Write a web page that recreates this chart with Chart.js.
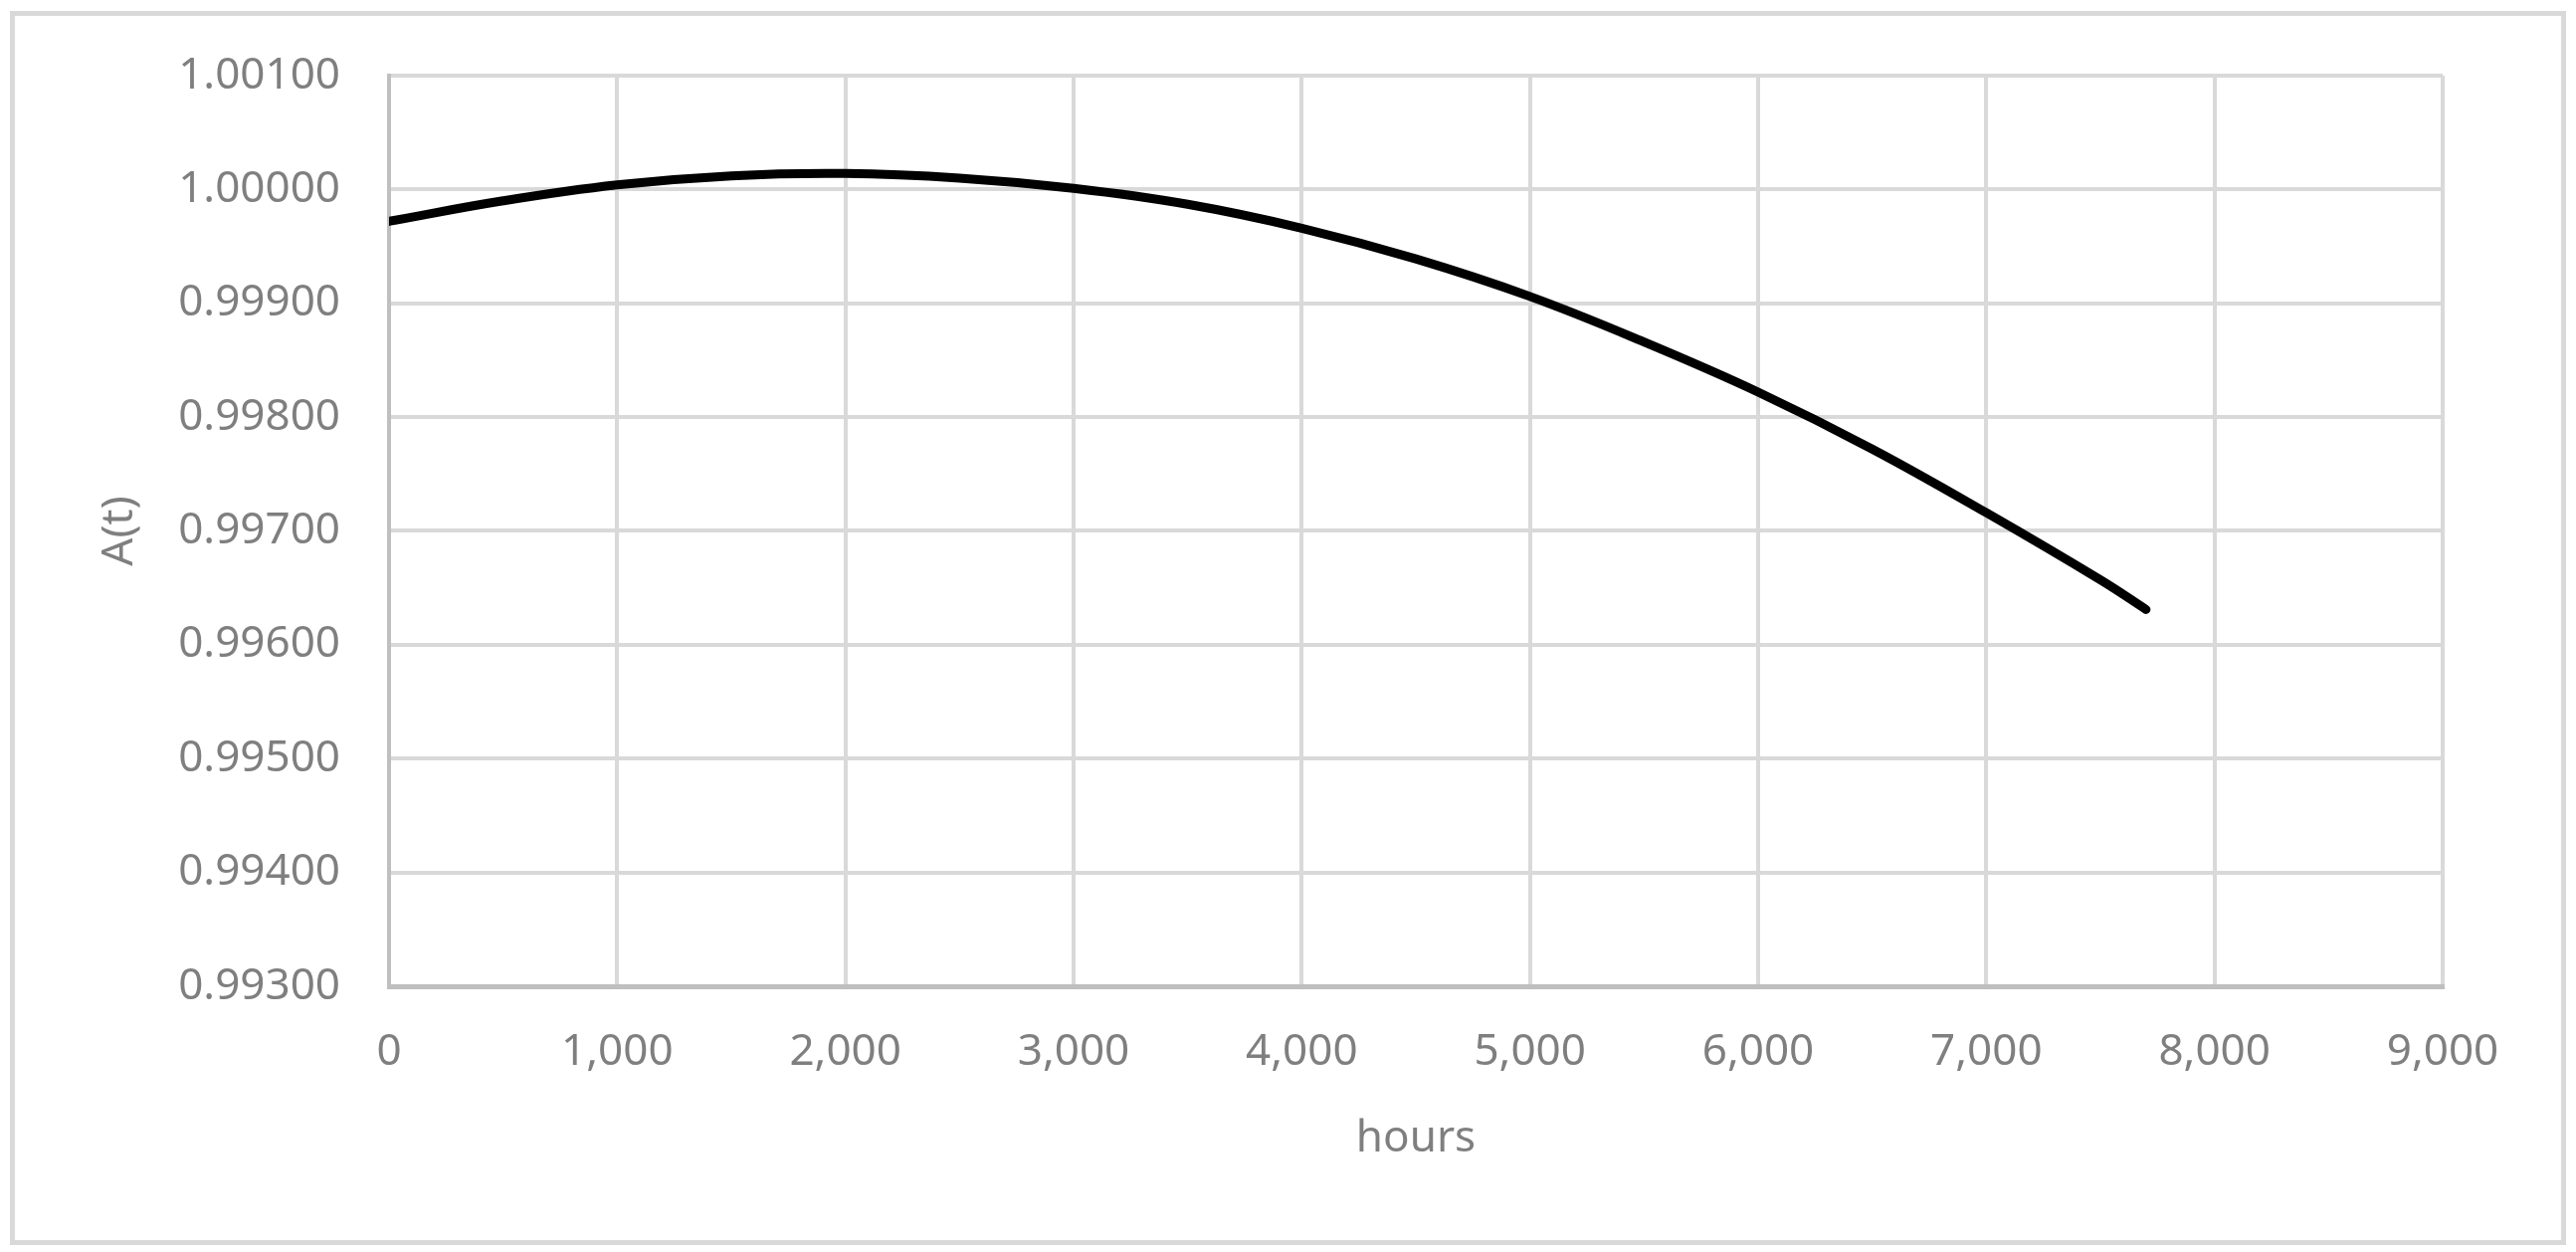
<!DOCTYPE html>
<html>
<head>
<meta charset="utf-8">
<script src="https://cdn.jsdelivr.net/npm/chart.js@4"></script>
<style>
  html, body { margin: 0; padding: 0; background: #fff; }
  #marco {
    position: absolute; left: 10px; top: 11px;
    width: 2559px; height: 1230px;
    border: 5px solid #d9d9d9;
  }
  #lienzo { position: absolute; left: 0; top: 0; width: 2589px; height: 1258px; }
</style>
</head>
<body>
<div id="marco"></div>
<div id="lienzo"><canvas id="grafico" width="2589" height="1258"></canvas></div>
<script>
// valores
const horas = [0, 500, 1000, 1500, 2000, 2500, 3000, 3500, 4000, 4500, 5000, 5500, 6000, 6500, 7000, 7500, 7700];
const disponibilidad = [0.99972, 0.99990, 1.00004, 1.00012, 1.00014, 1.00010, 1.00001, 0.99987, 0.99966, 0.99939,
                        0.99906, 0.99866, 0.99822, 0.99772, 0.99716, 0.99657, 0.99631];
const ticksX = [0, 1000, 2000, 3000, 4000, 5000, 6000, 7000, 8000, 9000];
const ticksY = [0.993, 0.994, 0.995, 0.996, 0.997, 0.998, 0.999, 1.000, 1.001];

const gris = '#7f7f7f';
const fuente = { family: 'Noto Sans', size: 44 };

new Chart(document.getElementById('grafico'), {
    type: 'line',
    data: {
        datasets: [{
            data: horas.map((h, i) => ({ x: h, y: disponibilidad[i] })),
            borderColor: '#000',
            borderWidth: 9,
            borderCapStyle: 'round',
            borderJoinStyle: 'round',
            pointRadius: 0,
            tension: 0.4,
            fill: false
        }]
    },
    options: {
        responsive: false,
        animation: false,
        devicePixelRatio: 1,
        layout: { padding: { left: 0, top: 76, right: 134, bottom: 0 } },
        plugins: { legend: { display: false }, tooltip: { enabled: false } },
        scales: {
            x: {
                type: 'linear',
                min: ticksX[0], max: ticksX[ticksX.length - 1],
                afterBuildTicks: s => { s.ticks = ticksX.map(v => ({ value: v })); },
                afterFit: s => { s.height = 267; },
                grid: { color: '#d9d9d9', lineWidth: 4, drawTicks: false },
                border: { color: '#bfbfbf', width: 5 },
                ticks: { color: gris, font: fuente, padding: 40, maxRotation: 0,
                         callback: v => v.toLocaleString('en-US') },
                title: { display: true, text: 'hours', color: gris, font: fuente,
                         padding: { top: 0, bottom: 87 } }
            },
            y: {
                min: ticksY[0], max: ticksY[ticksY.length - 1],
                afterBuildTicks: s => { s.ticks = ticksY.map(v => ({ value: v })); },
                afterFit: s => { s.width = 391; },
                grid: { color: '#d9d9d9', lineWidth: 4, drawTicks: false },
                border: { color: '#bfbfbf', width: 4 },
                ticks: { color: gris, font: fuente, padding: 49,
                         callback: v => v.toFixed(5) },
                title: { display: true, text: 'A(t)', color: gris, font: fuente,
                         padding: { top: 94, bottom: 0 } }
            }
        }
    }
});
</script>
</body>
</html>
